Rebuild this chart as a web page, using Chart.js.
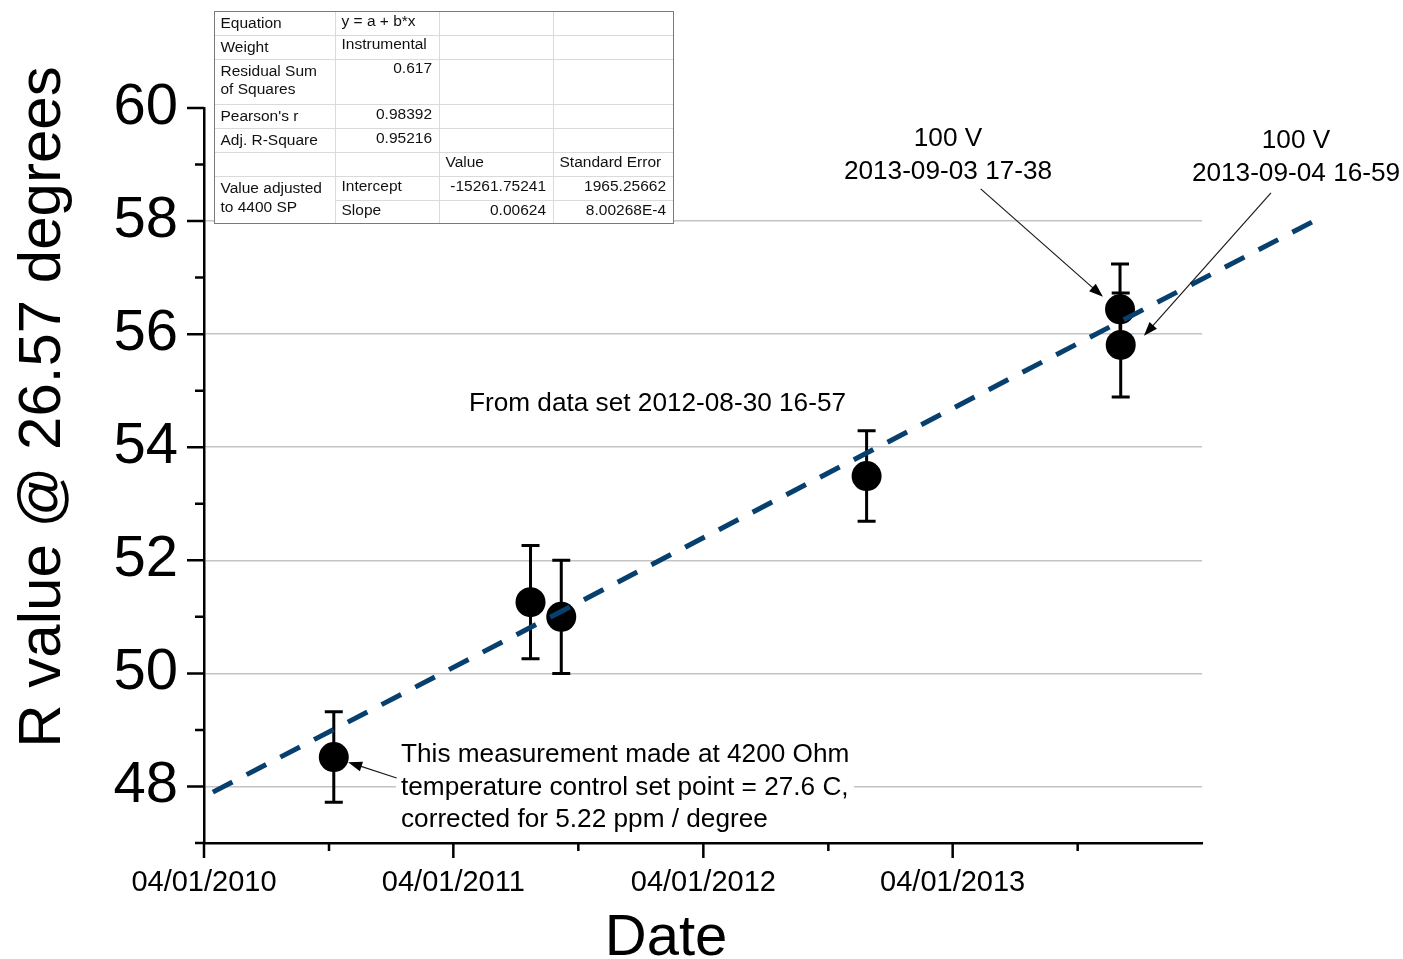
<!DOCTYPE html>
<html>
<head>
<meta charset="utf-8">
<title>R value @ 26.57 degrees vs Date</title>
<script src="https://cdn.jsdelivr.net/npm/chart.js@4.4.1/dist/chart.umd.min.js"></script>
<style>
  html, body { margin: 0; padding: 0; background: #fff; }
  canvas { display: block; }
</style>
</head>
<body>
<canvas id="chart" width="1403" height="959"></canvas>
<script>
const dates = ["2010-10-08", "2011-07-23", "2011-09-06", "2012-11-26", "2013-12-02", "2013-12-03"];
const rValues = [48.52, 51.26, 51.0, 53.49, 56.44, 55.81];
const rErrors = [0.8, 1.0, 1.0, 0.8, 0.8, 0.92];

// ends of the linear fit
const fitDates = ["2010-04-14", "2014-09-15"];
const fitValues = [47.9, 58.02];

const xTickDates = ["2010-04-01", "2010-10-01", "2011-04-01", "2011-10-01",
  "2012-04-01", "2012-10-01", "2013-04-01", "2013-10-01"];
const yTickValues = [47, 48, 49, 50, 51, 52, 53, 54, 55, 56, 57, 58, 59, 60];

// fit report table
const fitTable = [
  ["Equation", "y = a + b*x", "", ""],
  ["Weight", "Instrumental", "", ""],
  ["Residual Sum\nof Squares", "0.617", "", ""],
  ["Pearson's r", "0.98392", "", ""],
  ["Adj. R-Square", "0.95216", "", ""],
  ["", "", "Value", "Standard Error"],
  ["Value adjusted\nto 4400 SP", "Intercept", "-15261.75241", "1965.25662"],
  [null, "Slope", "0.00624", "8.00268E-4"],
];

// annotations: arrows go from label to point, in data coordinates
const noteArrows = [
  { from: ["2013-05-12", 58.57], to: ["2013-11-07", 56.66] },
  { from: ["2014-07-11", 58.5], to: ["2014-01-06", 55.97] },
  { from: ["2011-01-08", 48.15], to: ["2010-10-29", 48.43] },
];
const noteTexts = [
  ["100 V", "2013-09-03 17-38"],
  ["100 V", "2013-09-04 16-59"],
  ["From data set 2012-08-30 16-57"],
  ["This measurement made at 4200 Ohm", "temperature control set point = 27.6 C,", "corrected for 5.22 ppm / degree"],
];

const FONT = "'Liberation Sans', Arial, sans-serif";

function toDay(s) {
  const [y, m, d] = s.split("-").map(Number);
  return Date.UTC(y, m - 1, d) / 864e5;
}

function pad(n) {
  return String(n).padStart(2, "0");
}

function dayLabel(v) {
  const d = new Date(v * 864e5);
  if (d.getUTCMonth() !== 3) return "";
  return pad(d.getUTCMonth() + 1) + "/" + pad(d.getUTCDate()) + "/" + d.getUTCFullYear();
}

const errorBars = {
  id: "errorBars",
  beforeDatasetsDraw(chart) {
    const { ctx, scales: { x, y } } = chart;
    ctx.save();
    ctx.strokeStyle = "#000";
    ctx.lineWidth = 3;
    ctx.beginPath();
    dates.forEach((d, i) => {
      const px = x.getPixelForValue(toDay(d));
      const top = y.getPixelForValue(rValues[i] + rErrors[i]);
      const bot = y.getPixelForValue(rValues[i] - rErrors[i]);
      ctx.moveTo(px, top);
      ctx.lineTo(px, bot);
      ctx.moveTo(px - 9, top);
      ctx.lineTo(px + 9, top);
      ctx.moveTo(px - 9, bot);
      ctx.lineTo(px + 9, bot);
    });
    ctx.stroke();
    ctx.restore();
  },
};

const axisTicks = {
  id: "axisTicks",
  afterDraw(chart) {
    const { ctx, chartArea, scales: { x, y } } = chart;
    ctx.save();
    ctx.strokeStyle = "#000";
    ctx.lineWidth = 2.5;
    ctx.beginPath();
    y.ticks.forEach((t) => {
      const len = t.value % 2 === 0 ? 17 : 9;
      const py = y.getPixelForValue(t.value);
      ctx.moveTo(chartArea.left, py);
      ctx.lineTo(chartArea.left - len, py);
    });
    x.ticks.forEach((t) => {
      const len = dayLabel(t.value) ? 15 : 8;
      const px = x.getPixelForValue(t.value);
      ctx.moveTo(px, chartArea.bottom);
      ctx.lineTo(px, chartArea.bottom + len);
    });
    ctx.stroke();

    // axis titles
    ctx.fillStyle = "#000";
    ctx.font = "58px " + FONT;
    ctx.textAlign = "center";
    ctx.textBaseline = "alphabetic";
    ctx.fillText("Date", 666, 955);
    ctx.translate(60, 407);
    ctx.rotate(-Math.PI / 2);
    ctx.font = "60px " + FONT;
    ctx.fillText("R value @ 26.57 degrees", 0, 0);
    ctx.restore();
  },
};

function drawArrow(ctx, x1, y1, x2, y2) {
  const a = Math.atan2(y2 - y1, x2 - x1);
  const hl = 14, hw = 5;
  ctx.beginPath();
  ctx.moveTo(x1, y1);
  ctx.lineTo(x2 - Math.cos(a) * hl * 0.8, y2 - Math.sin(a) * hl * 0.8);
  ctx.stroke();
  ctx.beginPath();
  ctx.moveTo(x2, y2);
  ctx.lineTo(x2 - Math.cos(a) * hl + Math.sin(a) * hw, y2 - Math.sin(a) * hl - Math.cos(a) * hw);
  ctx.lineTo(x2 - Math.cos(a) * hl - Math.sin(a) * hw, y2 - Math.sin(a) * hl + Math.cos(a) * hw);
  ctx.closePath();
  ctx.fill();
}

const notes = {
  id: "notes",
  afterDraw(chart) {
    const { ctx, scales: { x, y } } = chart;
    const places = [
      { x: 948, y: 139, align: "center" },
      { x: 1296, y: 141, align: "center" },
      { x: 469, y: 404, align: "left" },
      { x: 401, y: 755, align: "left", box: [396, 737, 458, 100] },
    ];
    ctx.save();
    ctx.font = "26.2px " + FONT;
    ctx.textBaseline = "middle";
    noteTexts.forEach((lines, i) => {
      const p = places[i];
      if (p.box) {
        ctx.fillStyle = "#fff";
        ctx.fillRect(...p.box);
      }
      ctx.fillStyle = "#000";
      ctx.textAlign = p.align;
      lines.forEach((s, k) => ctx.fillText(s, p.x, p.y + k * 32.5));
    });
    ctx.strokeStyle = "#1a1a1a";
    ctx.fillStyle = "#000";
    ctx.lineWidth = 1.2;
    noteArrows.forEach((a) => {
      drawArrow(ctx,
        x.getPixelForValue(toDay(a.from[0])), y.getPixelForValue(a.from[1]),
        x.getPixelForValue(toDay(a.to[0])), y.getPixelForValue(a.to[1]));
    });
    ctx.restore();
  },
};

const reportTable = {
  id: "reportTable",
  afterDraw(chart) {
    const ctx = chart.ctx;
    const cols = [214, 335, 439, 553, 673];
    const rows = [11, 34.5, 58.5, 104, 128, 152, 176, 200, 223];
    const L = cols[0], R = cols[4], T = rows[0], B = rows[rows.length - 1];
    ctx.save();
    ctx.fillStyle = "#fff";
    ctx.fillRect(L, T, R - L, B - T);
    ctx.strokeStyle = "#dadada";
    ctx.lineWidth = 1;
    ctx.beginPath();
    rows.slice(1, -1).forEach((ry, i) => {
      const start = i === rows.length - 3 ? cols[1] : L;
      ctx.moveTo(start, Math.round(ry) + 0.5);
      ctx.lineTo(R, Math.round(ry) + 0.5);
    });
    cols.slice(1, -1).forEach((cx) => {
      ctx.moveTo(cx + 0.5, T);
      ctx.lineTo(cx + 0.5, B);
    });
    ctx.stroke();
    ctx.strokeStyle = "#7a7a7a";
    ctx.strokeRect(L + 0.5, Math.round(T) + 0.5, R - L, Math.round(B - T));

    ctx.font = "15.5px " + FONT;
    ctx.fillStyle = "#111";
    ctx.textBaseline = "middle";
    const numeric = /^-?[\d.]+(E-?\d+)?$/;
    fitTable.forEach((row, r) => {
      row.forEach((cell, c) => {
        if (!cell) return;
        const top = rows[r];
        cell.split("\n").forEach((s, k) => {
          const yy = top + (c === 0 ? 13 : 10.5) + k * 18.5;
          if (numeric.test(s)) {
            ctx.textAlign = "right";
            ctx.fillText(s, cols[c + 1] - 7, yy);
          } else {
            ctx.textAlign = "left";
            ctx.fillText(s, cols[c] + 6.5, yy);
          }
        });
      });
    });
    ctx.restore();
  },
};

Chart.defaults.font.family = FONT;
Chart.defaults.color = "#000";

new Chart(document.getElementById("chart"), {
  type: "scatter",
  data: {
    datasets: [
      {
        label: "Linear fit",
        data: fitDates.map((d, i) => ({ x: toDay(d), y: fitValues[i] })),
        showLine: true,
        borderColor: "#073f6e",
        borderWidth: 5,
        borderDash: [22, 16],
        pointRadius: 0,
        clip: false,
      },
      {
        label: "R value",
        data: dates.map((d, i) => ({ x: toDay(d), y: rValues[i] })),
        pointRadius: 15,
        pointBackgroundColor: "#000",
        pointBorderWidth: 0,
        borderColor: "#000",
      },
    ],
  },
  options: {
    responsive: false,
    devicePixelRatio: 1,
    animation: false,
    events: [],
    layout: { autoPadding: false, padding: { top: 108, right: 201, bottom: 0, left: 0 } },
    plugins: { legend: { display: false }, tooltip: { enabled: false } },
    scales: {
      x: {
        type: "linear",
        min: toDay("2010-04-01"),
        max: toDay("2014-04-01"),
        afterBuildTicks: (scale) => { scale.ticks = xTickDates.map((d) => ({ value: toDay(d) })); },
        afterFit: (scale) => { scale.height = 116; },
        grid: { color: "rgba(0,0,0,0)", drawTicks: false },
        border: { display: true, color: "#000", width: 2.5 },
        ticks: {
          autoSkip: false,
          maxRotation: 0,
          padding: 23,
          font: { size: 29 },
          callback: (v) => dayLabel(v),
        },
      },
      y: {
        type: "linear",
        min: 47,
        max: 60,
        afterBuildTicks: (scale) => { scale.ticks = yTickValues.map((v) => ({ value: v })); },
        afterFit: (scale) => { scale.width = 204; },
        grid: {
          color: (c) => (c.tick && c.tick.value % 2 === 0 && c.tick.value > 47 && c.tick.value < 60 ? "#c4c4c4" : "rgba(0,0,0,0)"),
          lineWidth: 1.5,
          drawTicks: false,
        },
        border: { display: true, color: "#000", width: 2.5 },
        ticks: {
          autoSkip: false,
          padding: 26,
          font: { size: 58 },
          callback: (v) => (v % 2 === 0 ? String(v) : ""),
        },
      },
    },
  },
  plugins: [errorBars, axisTicks, notes, reportTable],
});
</script>
</body>
</html>
